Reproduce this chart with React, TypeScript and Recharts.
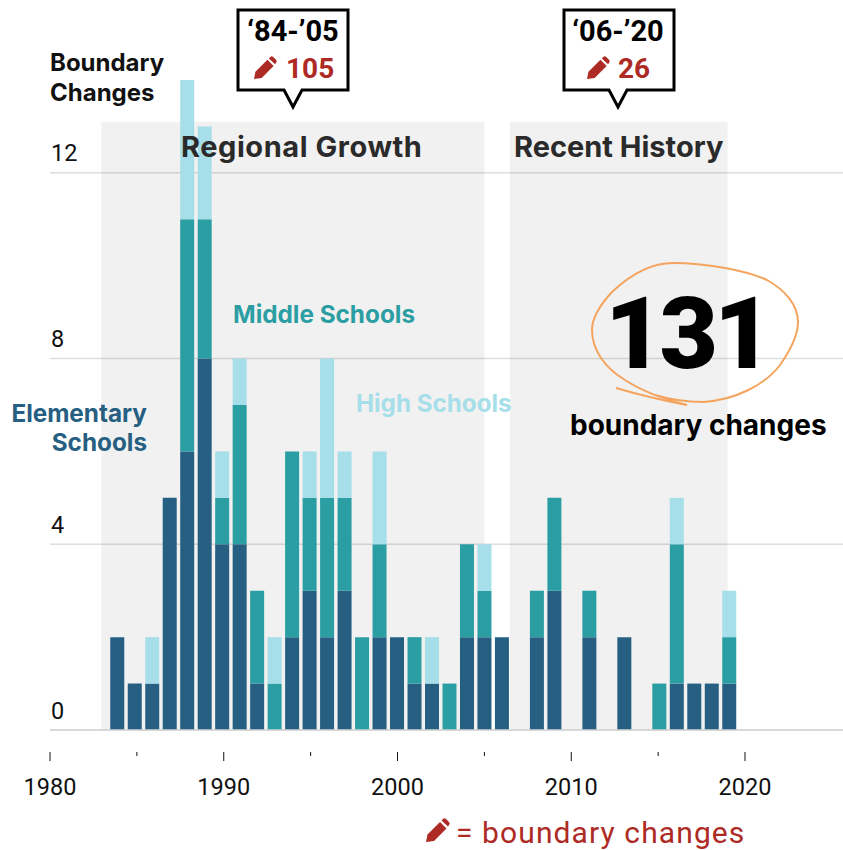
import React from "react";
import {
  BarChart,
  Bar,
  XAxis,
  YAxis,
  CartesianGrid,
  ReferenceArea,
  ReferenceLine,
} from "recharts";

const years = [
  1984, 1985, 1986, 1987, 1988, 1989, 1990, 1991, 1992, 1993, 1994, 1995, 1996,
  1997, 1998, 1999, 2000, 2001, 2002, 2003, 2004, 2005, 2006, 2007, 2008, 2009,
  2010, 2011, 2012, 2013, 2014, 2015, 2016, 2017, 2018, 2019,
];
const elementary = [
  2, 1, 1, 5, 6, 8, 4, 4, 1, 0, 2, 3, 2, 3, 0, 2, 2, 1, 1, 0, 2, 2, 2, 0, 2, 3,
  0, 2, 0, 2, 0, 0, 1, 1, 1, 1,
];
const middle = [
  0, 0, 0, 0, 5, 3, 1, 3, 2, 1, 4, 2, 3, 2, 2, 2, 0, 1, 0, 1, 2, 1, 0, 0, 1, 2,
  0, 1, 0, 0, 0, 1, 3, 0, 0, 1,
];
const high = [
  0, 0, 1, 0, 3, 2, 1, 1, 0, 1, 0, 1, 3, 1, 0, 2, 0, 0, 1, 0, 0, 1, 0, 0, 0, 0,
  0, 0, 0, 0, 0, 0, 1, 0, 0, 1,
];
const yearTicks = [1980, 1985, 1990, 1995, 2000, 2005, 2010, 2015, 2020];
const valueTicks = [0, 4, 8, 12];

const rows = years.map((year, i) => ({
  year,
  elementary: elementary[i],
  middle: middle[i],
  high: high[i],
}));

const NAVY = "#265F82";
const TEAL = "#2B9EA3";
const LIGHT = "#A6DEEA";
const RED = "#AE2A24";
const FONT = "Roboto, sans-serif";

const YearTick = ({ x, y, payload }: any) => {
  const major = payload.value % 10 === 0;
  return (
    <g>
      <line
        x1={x}
        x2={x}
        y1={y + 22}
        y2={y + (major ? 31 : 26)}
        stroke="#111"
        strokeWidth={1}
      />
      {major && (
        <text
          x={x}
          y={y + 65}
          textAnchor="middle"
          fontFamily={FONT}
          fontSize={23.5}
          fill="#111"
        >
          {payload.value}
        </text>
      )}
    </g>
  );
};

const ValueTick = ({ x, y, payload }: any) => (
  <text x={x + 1} y={y - 11.5} fontFamily={FONT} fontSize={23.5} fill="#111">
    {payload.value}
  </text>
);

const Pencil = ({ x, y, size = 24 }: any) => (
  <g transform={`translate(${x} ${y}) scale(${size / 24})`} fill={RED}>
    <path d="M1.5 16.5 L14 4 L20.5 10.5 L8 23 L0 24 Z" />
    <path d="M15.5 2.5 L17 1 Q18.5 -0.5 20 1 L23 4 Q24.5 5.5 23 7 L22 8.5 Z" />
  </g>
);

const Callout = ({ left, right, tip, range, count, pencilX, countX }: any) => (
  <g>
    <path
      d={`M${left} 10 H${right} V90 H${tip + 9} L${tip} 107 L${tip - 9} 90 H${left} Z`}
      fill="#fff"
      stroke="#000"
      strokeWidth={3}
    />
    <text
      x={tip}
      y={41}
      textAnchor="middle"
      fontFamily={FONT}
      fontWeight={700}
      fontSize={29}
      fill="#000"
    >
      {range}
    </text>
    <Pencil x={pencilX} y={56} size={23} />
    <text
      x={countX}
      y={78}
      fontFamily={FONT}
      fontWeight={700}
      fontSize={28}
      fill={RED}
    >
      {count}
    </text>
  </g>
);

const label = {
  fontFamily: "Inter, sans-serif",
  fontWeight: 700,
};

const Annotations = () => (
  <svg
    width={843}
    height={850}
    style={{ position: "absolute", left: 0, top: 0, pointerEvents: "none" }}
  >
    <Callout
      left={238}
      right={348}
      tip={293}
      range="‘84-’05"
      count="105"
      pencilX={254}
      countX={286}
    />
    <Callout
      left={564}
      right={674}
      tip={618}
      range="‘06-’20"
      count="26"
      pencilX={587}
      countX={618}
    />
    <text x={50} y={71} {...label} fontSize={24} fill="#111">
      Boundary
    </text>
    <text x={50} y={101} {...label} fontSize={24} fill="#111">
      Changes
    </text>
    <text x={181} y={157} {...label} fontSize={29} letterSpacing={0.55} fill="#2a2a2a">
      Regional Growth
    </text>
    <text x={514} y={157} {...label} fontSize={29} fill="#2a2a2a">
      Recent History
    </text>
    <text x={233} y={323} {...label} fontSize={24.3} fill={TEAL}>
      Middle Schools
    </text>
    <text x={356} y={412} {...label} fontSize={24.2} fill={LIGHT}>
      High Schools
    </text>
    <text x={147} y={422} textAnchor="end" {...label} fontSize={24.3} fill={NAVY}>
      Elementary
    </text>
    <text x={147} y={451} textAnchor="end" {...label} fontSize={24.3} fill={NAVY}>
      Schools
    </text>
    <text
      x={605}
      y={368}
      fontFamily={FONT}
      fontWeight={900}
      fontSize={101}
      letterSpacing={-4}
      fill="#000"
    >
      131
    </text>
    <text x={570} y={435} {...label} fontSize={28} fill="#000">
      boundary changes
    </text>
    <g fill="none" stroke="#F5A45F" strokeWidth={2}>
      <path d="M616 388 Q650 398 687 405" />
      <path d="M655 395 C675 401 690 402 703 402 C735 400 765 385 780 365 C792 348 798 335 798 322 C798 305 785 290 767 280 C745 270 705 263 673 263 C650 263 630 275 612 292 C600 305 592 318 592 330 C592 350 605 368 625 380 C640 390 665 400 687 405" />
    </g>
    <Pencil x={426} y={818} size={24} />
    <text
      x={456}
      y={843}
      fontFamily={FONT}
      fontSize={30}
      letterSpacing={1.1}
      fill={RED}
    >
      = boundary changes
    </text>
  </svg>
);

const App = () => {
  return (
    <div
      style={{
        position: "absolute",
        left: 0,
        top: 0,
        width: 843,
        height: 850,
        overflow: "hidden",
        background: "#fff",
      }}
    >
      <BarChart
        width={843}
        height={850}
        data={rows}
        margin={{ top: 80, right: 0, left: 49, bottom: 0 }}
      >
        <CartesianGrid
          vertical={false}
          horizontalValues={valueTicks}
          stroke="#dedede"
          strokeWidth={1.5}
        />
        <XAxis
          xAxisId="years"
          type="number"
          dataKey="year"
          domain={[1980, 2025.64]}
          ticks={yearTicks}
          interval={0}
          axisLine={false}
          tickLine={false}
          tickSize={0}
          tickMargin={0}
          height={120}
          tick={<YearTick />}
        />
        <XAxis
          xAxisId="bars"
          type="number"
          dataKey="year"
          domain={[1980.168, 2025.52]}
          height={0}
          hide
        />
        <YAxis
          type="number"
          domain={[0, 14]}
          ticks={valueTicks}
          width={1}
          axisLine={false}
          tickLine={false}
          tickSize={0}
          tickMargin={0}
          tick={<ValueTick />}
        />
        <ReferenceArea
          xAxisId="years"
          x1={1982.95}
          x2={2005}
          y1={0}
          y2={13.1}
          fill="#000"
          fillOpacity={0.055}
          stroke="none"
        />
        <ReferenceArea
          xAxisId="years"
          x1={2006.47}
          x2={2019}
          y1={0}
          y2={13.1}
          fill="#000"
          fillOpacity={0.055}
          stroke="none"
        />
        <ReferenceLine xAxisId="years" y={0} stroke="#d4d4d4" strokeWidth={1.5} />
        <Bar
          xAxisId="bars"
          dataKey="elementary"
          stackId="a"
          fill={NAVY}
          barSize={14}
          isAnimationActive={false}
        />
        <Bar
          xAxisId="bars"
          dataKey="middle"
          stackId="a"
          fill={TEAL}
          barSize={14}
          isAnimationActive={false}
        />
        <Bar
          xAxisId="bars"
          dataKey="high"
          stackId="a"
          fill={LIGHT}
          barSize={14}
          isAnimationActive={false}
        />
      </BarChart>
      <Annotations />
    </div>
  );
};

export default App;
